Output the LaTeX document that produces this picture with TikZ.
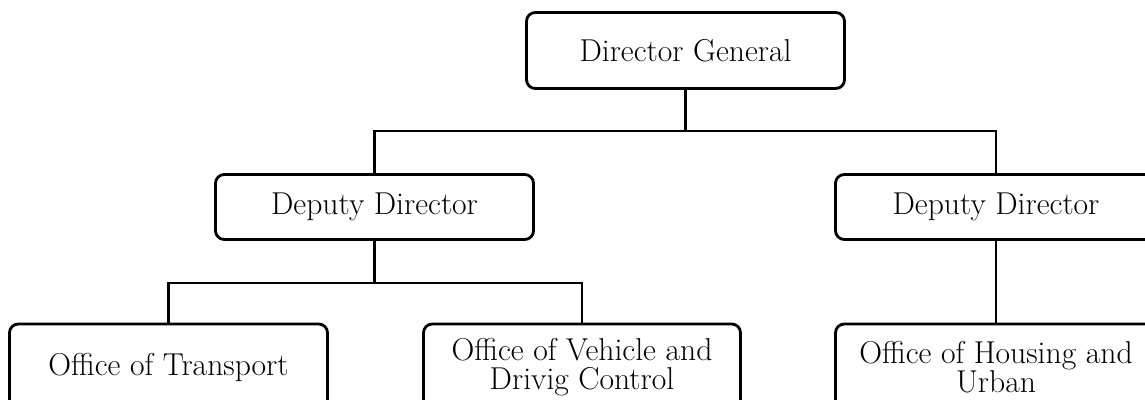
\documentclass[tikz,border=0pt]{standalone}
\usepackage{tikz}

\begin{document}
\begin{tikzpicture}
        [x=0.02cm, y=-0.02cm,
        unit/.style={draw, rounded corners=5pt, line width=1.6pt, align=center,
                     font=\fontsize{18}{16.5}\selectfont, inner sep=0pt},
        edge/.style={line width=1.5pt, black}]

        \useasboundingbox (0,0) rectangle (1145,399);
        \clip (0,0) rectangle (1145,399);

        \node[unit, minimum width=318*0.02cm, minimum height=76*0.02cm] (dg) at (685.5,50.5) {Director General};
        \node[unit, minimum width=318*0.02cm, minimum height=65*0.02cm] (dl) at (374.5,207) {Deputy Director};
        \node[unit, minimum width=321*0.02cm, minimum height=65*0.02cm] (dr) at (996,207) {Deputy Director};
        \node[unit, minimum width=318*0.02cm, minimum height=86*0.02cm] (tr) at (168.5,367) {Office of Transport};
        \node[unit, minimum width=317*0.02cm, minimum height=86*0.02cm] (vc) at (582,367) {Office of Vehicle and\\Drivig Control};
        \node[unit, minimum width=321*0.02cm, minimum height=86*0.02cm] (hu) at (996,367) {Office of Housing and\\Urban};

        % bus lines
        \coordinate (bus1) at (685.5,131);
        \coordinate (bus2) at (374.5,283);

        \draw[edge] (dg) -- (bus1);
        \draw[edge] (dl.north) |- (bus1) -| (dr.north);
        \draw[edge] (dl) -- (bus2);
        \draw[edge] (tr.north) |- (bus2) -| (vc.north);
        \draw[edge] (dr) -- (hu);

\end{tikzpicture}
\end{document}
